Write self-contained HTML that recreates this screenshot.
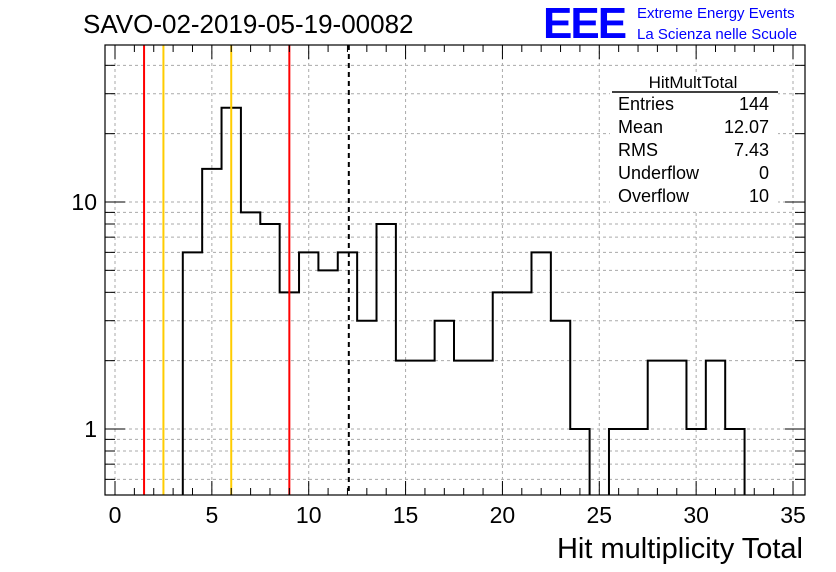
<!DOCTYPE html>
<html><head><meta charset="utf-8"><style>
body{margin:0;background:#fff;}
svg{display:block;font-family:"Liberation Sans",sans-serif;}
</style></head><body>
<svg id="c" width="836" height="572"></svg>
<script>
const binCenters=[4,5,6,7,8,9,10,11,12,13,14,15,16,17,18,19,20,21,22,23,24,25,26,27,28,29,30,31,32];
const binCounts=[6,14,26,9,8,4,6,5,6,3,8,2,2,3,2,2,4,4,6,3,1,0,1,1,2,2,1,2,1];
const xTicks=[0,5,10,15,20,25,30,35];
const yTicks=[1,10];
const vLines=[{v:1.5,c:"#ff0000"},{v:2.5,c:"#ffcc00"},{v:6,c:"#ffcc00"},{v:9,c:"#ff0000"}];
const meanVal=12.07;
const stats=[["Entries","144"],["Mean","12.07"],["RMS","7.43"],["Underflow","0"],["Overflow","10"]];

const L=105,R=805,T=45,B=495;
const X=v=>115+v*(793-115)/35;
const Y=v=>429-227*Math.log10(v);
const ymin=Math.pow(10,(429-B)/227);
const svg=document.getElementById('c');
const NS="http://www.w3.org/2000/svg";
function el(t,a,p){const e=document.createElementNS(NS,t);for(const k in a)e.setAttribute(k,a[k]);(p||svg).appendChild(e);return e;}

const g=el('g',{});


xTicks.forEach(t=>el('line',{x1:X(t),x2:X(t),y1:T,y2:B,stroke:"#aaa","stroke-dasharray":"3,3","stroke-width":1},g));
for(let d=0.1;d<=10;d*=10){for(let m=1;m<10;m++){const v=m*d;if(v<ymin||Y(v)<T)continue;el('line',{x1:L,x2:R,y1:Y(v),y2:Y(v),stroke:"#aaa","stroke-dasharray":"3,3","stroke-width":1},g);}}

// histogram (no horizontal for empty bins)
let d="";
binCenters.forEach((c,i)=>{const x0=X(c-0.5),x1=X(c+0.5);
 if(i===0)d+=`M${x0},${B}`;
 if(binCounts[i]>0){d+=` L${x0},${Y(binCounts[i])} L${x1},${Y(binCounts[i])}`;}
 else{d+=` L${x0},${B} M${x1},${B}`;}});
d+=` L${X(binCenters[binCenters.length-1]+0.5)},${B}`;
const h=el('path',{d:d,fill:"none",stroke:"#000","stroke-width":2});



vLines.forEach((l,i)=>{const e=el('line',{x1:X(l.v),x2:X(l.v),y1:T,y2:B,stroke:l.c,"stroke-width":2});

});
const ml=el('line',{x1:X(meanVal),x2:X(meanVal),y1:T,y2:B,stroke:"#000","stroke-width":2,"stroke-dasharray":"5,4"});



const fr=el('rect',{x:L,y:T,width:R-L,height:B-T,fill:"none",stroke:"#000","stroke-width":1.2});



for(let t=0;t<=35;t++){const big=t%5===0;
 el('line',{x1:X(t),x2:X(t),y1:B,y2:B-(big?14:7),stroke:"#000"});
 el('line',{x1:X(t),x2:X(t),y1:T,y2:T+(big?14:7),stroke:"#000"});}
xTicks.forEach(t=>{const e=el('text',{x:X(t),y:523,"font-size":23,"text-anchor":"middle"});e.textContent=t;

});
for(let dd=0.1;dd<=10;dd*=10){for(let m=1;m<10;m++){const v=m*dd;if(v<ymin||Y(v)<T)continue;const big=m===1;
 el('line',{x1:L,x2:L+(big?20:10),y1:Y(v),y2:Y(v),stroke:"#000"});
 el('line',{x1:R,x2:R-(big?20:10),y1:Y(v),y2:Y(v),stroke:"#000"});}}
yTicks.forEach(t=>{const e=el('text',{x:97,y:Y(t)+8,"font-size":23,"text-anchor":"end"});e.textContent=t;

});

const xt=el('text',{x:803,y:558,"font-size":29,"text-anchor":"end"});xt.textContent="Hit multiplicity Total";


const tt=el('text',{x:83,y:33,"font-size":26});tt.textContent="SAVO-02-2019-05-19-00082";



const lg=el('text',{x:543,y:38,"font-size":44,"font-weight":"bold",fill:"#0000ff","letter-spacing":"-2"});lg.textContent="EEE";


const l1=el('text',{x:637,y:18,"font-size":15,fill:"#0000ff"});l1.textContent="Extreme Energy Events";


const l2=el('text',{x:637,y:39,"font-size":15,fill:"#0000ff"});l2.textContent="La Scienza nelle Scuole";



const sb=el('g',{});


el('rect',{x:610,y:72,width:168,height:138,fill:"#fff"},sb);
const st=el('text',{x:693,y:88,"font-size":17,"text-anchor":"middle"},sb);st.textContent="HitMultTotal";
el('line',{x1:612,x2:778,y1:92,y2:92,stroke:"#000","stroke-width":1.5},sb);
stats.forEach((s,i)=>{const y=110+i*23;
 const a=el('text',{x:618,y:y,"font-size":18},sb);a.textContent=s[0];
 const b=el('text',{x:769,y:y,"font-size":18,"text-anchor":"end"},sb);b.textContent=s[1];});
</script>
</body></html>
